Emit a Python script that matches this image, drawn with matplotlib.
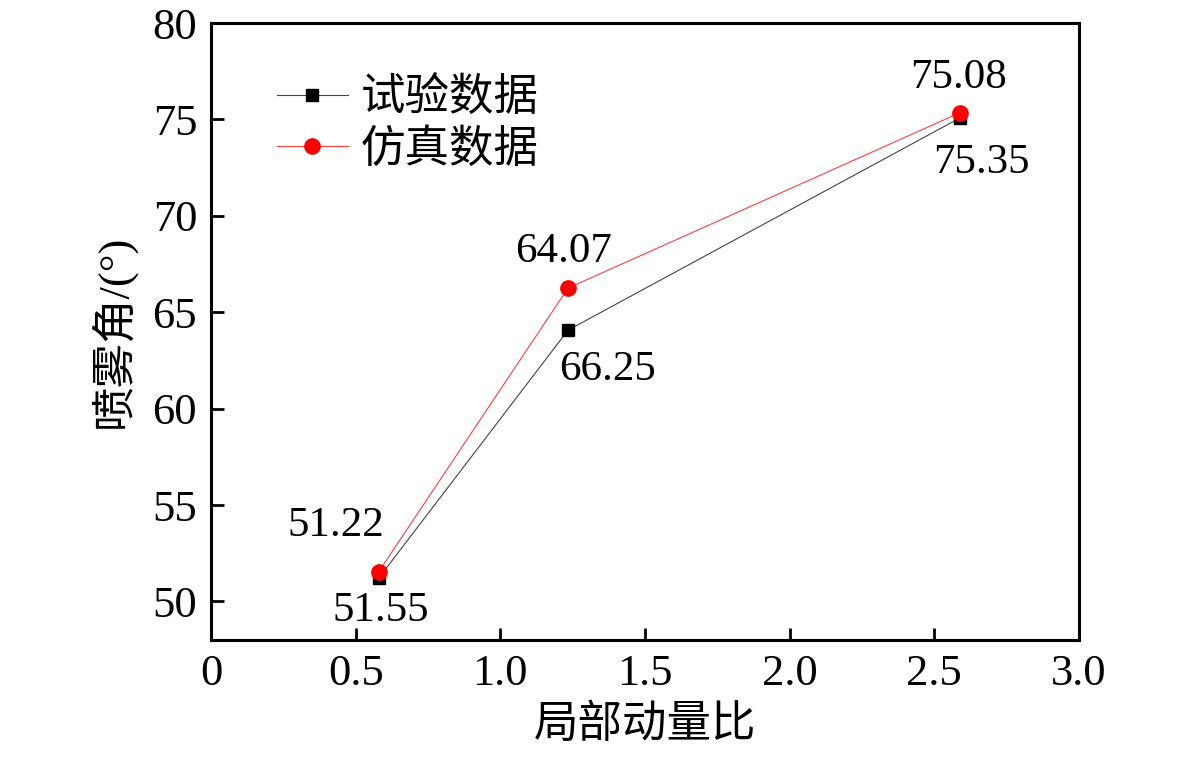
import numpy as np
import matplotlib
matplotlib.use("Agg")
import matplotlib.pyplot as plt

plt.rcParams['font.family'] = ['Liberation Serif', 'Noto Sans CJK SC']
plt.rcParams['axes.unicode_minus'] = False

# data
ratio = [0.58, 1.234, 2.589]
test_data = [51.22, 64.07, 75.08]
sim_data = [51.55, 66.25, 75.35]
labels_above = ["51.22", "64.07", "75.08"]
labels_below = ["51.55", "66.25", "75.35"]
xticks = [0, 0.5, 1.0, 1.5, 2.0, 2.5, 3.0]
xticklabels = ["0", "0.5", "1.0", "1.5", "2.0", "2.5", "3.0"]
yticks = [50, 55, 60, 65, 70, 75, 80]

fig = plt.figure(figsize=(11.81, 7.62), dpi=100)
ax = fig.add_axes([0.1787, 0.1601, 0.7349, 0.8097])

ax.plot(ratio, test_data, color='#444444', lw=0.8, marker='s', ms=9,
        mfc='black', mec='black', label='试验数据')
ax.plot(ratio, sim_data, color='#ff4040', lw=0.8, marker='o', ms=11,
        mfc='red', mec='red', label='仿真数据')

# label offsets in pixels from the test-data points
above_off = [(-43, 52), (-4, 78), (-2, 40)]
below_off = [(2, -33), (39, -40), (21, -45)]
for i in range(len(ratio)):
    ax.annotate(labels_above[i], (ratio[i], test_data[i]), xytext=above_off[i],
                textcoords='offset pixels', ha='center', va='center', fontsize=31)
    ax.annotate(labels_below[i], (ratio[i], test_data[i]), xytext=below_off[i],
                textcoords='offset pixels', ha='center', va='center', fontsize=31)

ax.set_xlim(0, 3.0)
ax.set_ylim(48, 80)
ax.set_xticks(xticks)
ax.set_xticklabels(xticklabels)
ax.set_yticks(yticks)
ax.tick_params(direction='in', length=9, width=2, labelsize=32, pad=10,
               top=False, right=False)
for s in ax.spines.values():
    s.set_linewidth(2.2)

ax.set_xlabel('局部动量比', fontsize=32, labelpad=8)
ax.set_ylabel('喷雾角/(°)', fontsize=32, labelpad=12)

ax.legend(loc='upper left', bbox_to_anchor=(0.055, 0.94), frameon=False,
          fontsize=32, handlelength=1.6, handletextpad=0.3, labelspacing=0.2,
          borderaxespad=0)

fig.savefig('out.png', dpi=100)
